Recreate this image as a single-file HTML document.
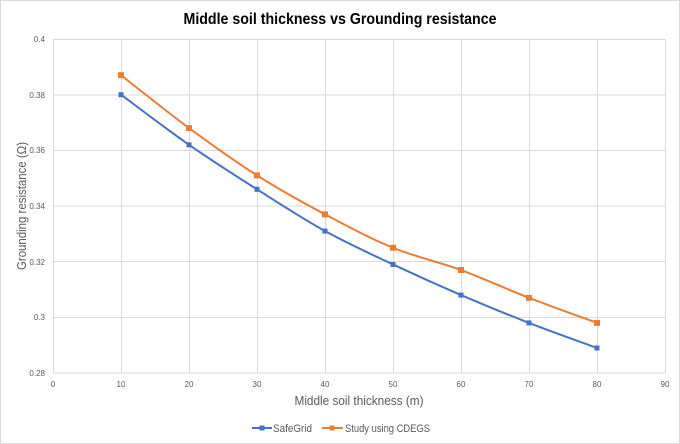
<!DOCTYPE html>
<html><head><meta charset="utf-8"><style>
html,body{margin:0;padding:0;background:#fff;}
svg{display:block;}
</style></head><body>
<svg width="680" height="444" viewBox="0 0 680 444" xmlns="http://www.w3.org/2000/svg" font-family="'Liberation Sans', sans-serif">
<rect x="0.5" y="0.5" width="679" height="443" fill="#fff" stroke="#d9d9d9" stroke-width="1"/>
<text x="340" y="24" text-anchor="middle" font-size="16" font-weight="bold" fill="#000" textLength="313" lengthAdjust="spacingAndGlyphs">Middle soil thickness vs Grounding resistance</text>
<g stroke="#d9d9d9" stroke-width="1" fill="none">
<line x1="53" y1="39.5" x2="665" y2="39.5"/>
<line x1="53" y1="95" x2="665" y2="95"/>
<line x1="53" y1="150.5" x2="665" y2="150.5"/>
<line x1="53" y1="206" x2="665" y2="206"/>
<line x1="53" y1="261.5" x2="665" y2="261.5"/>
<line x1="53" y1="317.5" x2="665" y2="317.5"/>
<line x1="53" y1="373" x2="665" y2="373"/>
<line x1="53.5" y1="39" x2="53.5" y2="373"/>
<line x1="121.5" y1="39" x2="121.5" y2="373"/>
<line x1="189.5" y1="39" x2="189.5" y2="373"/>
<line x1="257.5" y1="39" x2="257.5" y2="373"/>
<line x1="325.5" y1="39" x2="325.5" y2="373"/>
<line x1="393.5" y1="39" x2="393.5" y2="373"/>
<line x1="461.5" y1="39" x2="461.5" y2="373"/>
<line x1="529.5" y1="39" x2="529.5" y2="373"/>
<line x1="597.5" y1="39" x2="597.5" y2="373"/>
<line x1="665.5" y1="39" x2="665.5" y2="373"/>
</g>
<g font-size="8" fill="#595959" text-anchor="end">
<text x="45" y="42">0.4</text>
<text x="45" y="98">0.38</text>
<text x="45" y="153">0.36</text>
<text x="45" y="209">0.34</text>
<text x="45" y="265">0.32</text>
<text x="45" y="320">0.3</text>
<text x="45" y="376">0.28</text>
</g>
<g font-size="8" fill="#595959" text-anchor="middle">
<text x="53" y="387">0</text>
<text x="121" y="387">10</text>
<text x="189" y="387">20</text>
<text x="257" y="387">30</text>
<text x="325" y="387">40</text>
<text x="393" y="387">50</text>
<text x="461" y="387">60</text>
<text x="529" y="387">70</text>
<text x="597" y="387">80</text>
<text x="665" y="387">90</text>
</g>
<text x="359" y="405" text-anchor="middle" font-size="13" fill="#595959" textLength="129" lengthAdjust="spacingAndGlyphs">Middle soil thickness (m)</text>
<text transform="translate(26,206) rotate(-90)" text-anchor="middle" font-size="13" fill="#595959" textLength="128" lengthAdjust="spacingAndGlyphs">Grounding resistance (Ω)</text>
<path fill="none" stroke="#4472C4" stroke-width="2" d="M121,94.67 C132.33,103.02 166.33,129.00 189,144.77 C211.67,160.54 234.33,174.92 257,189.30 C279.67,203.68 302.33,218.52 325,231.05 C347.67,243.58 370.33,253.78 393,264.45 C415.67,275.12 438.33,285.33 461,295.07 C483.67,304.81 506.33,314.09 529,322.90 C551.67,331.71 585.67,343.77 597,347.95"/>
<path fill="none" stroke="#ED7D31" stroke-width="2" d="M121,75.18 C132.33,84.00 166.33,111.37 189,128.07 C211.67,144.77 234.33,161.00 257,175.38 C279.67,189.76 302.33,202.29 325,214.35 C347.67,226.41 370.33,238.47 393,247.75 C415.67,257.03 438.33,261.67 461,270.02 C483.67,278.37 506.33,289.04 529,297.85 C551.67,306.66 585.67,318.72 597,322.90"/>
<g fill="#4472C4">
<rect x="118.5" y="92.2" width="5" height="5"/>
<rect x="186.5" y="142.3" width="5" height="5"/>
<rect x="254.5" y="186.8" width="5" height="5"/>
<rect x="322.5" y="228.6" width="5" height="5"/>
<rect x="390.5" y="262" width="5" height="5"/>
<rect x="458.5" y="292.6" width="5" height="5"/>
<rect x="526.5" y="320.4" width="5" height="5"/>
<rect x="594.5" y="345.5" width="5" height="5"/>
</g>
<g fill="#ED7D31">
<rect x="118" y="72.2" width="6" height="6"/>
<rect x="186" y="125.1" width="6" height="6"/>
<rect x="254" y="172.4" width="6" height="6"/>
<rect x="322" y="211.4" width="6" height="6"/>
<rect x="390" y="244.8" width="6" height="6"/>
<rect x="458" y="267" width="6" height="6"/>
<rect x="526" y="294.9" width="6" height="6"/>
<rect x="594" y="319.9" width="6" height="6"/>
</g>
<line x1="252" y1="428" x2="272" y2="428" stroke="#4472C4" stroke-width="2"/>
<rect x="259.5" y="425.5" width="5" height="5" fill="#4472C4"/>
<text x="273" y="432" font-size="11" fill="#595959" textLength="39" lengthAdjust="spacingAndGlyphs">SafeGrid</text>
<line x1="322" y1="428" x2="343" y2="428" stroke="#ED7D31" stroke-width="2"/>
<rect x="329.5" y="425.5" width="5" height="5" fill="#ED7D31"/>
<text x="345" y="432" font-size="11" fill="#595959" textLength="85" lengthAdjust="spacingAndGlyphs">Study using CDEGS</text>
</svg>
</body></html>
